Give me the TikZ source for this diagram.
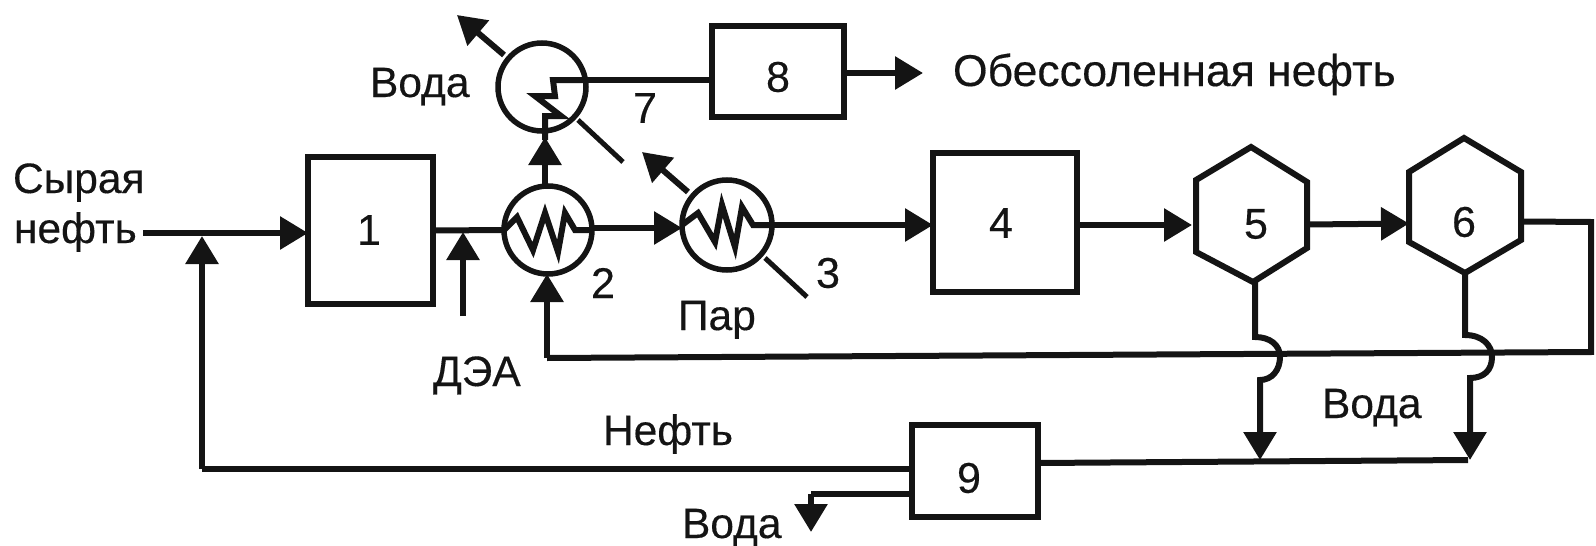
\documentclass[tikz,border=0pt]{standalone}
\usepackage{fontspec}
\setmainfont[FakeBold=0.35]{Liberation Sans}
\usetikzlibrary{arrows.meta,calc}
\definecolor{ink}{HTML}{141414}
\tikzset{
  lineink/.style={draw=ink,line width=6pt,line join=miter},
  arr/.style={lineink,-{Triangle[length=28pt,width=32pt]}},
  thinline/.style={draw=ink,line width=5pt},
  boxnode/.style={rectangle,lineink,fill=white,inner sep=0pt,outer sep=0pt},
  hexnode/.style={rectangle,inner sep=0pt,outer sep=0pt},
  hexline/.style={lineink,fill=white},
  heatnode/.style={circle,lineink,line width=5.5pt,fill=white,inner sep=0pt,outer sep=0pt},
  txt/.style={inner sep=0pt,outer sep=0pt,anchor=base west,text=ink,font=\fontsize{42.5}{50}\selectfont},
  txtwide/.style={txt,font=\fontsize{44.5}{52}\selectfont},
  num/.style={inner sep=0pt,outer sep=0pt,anchor=center,text=ink,font=\fontsize{43}{50}\selectfont},
}
\begin{document}
\begin{tikzpicture}[x=1pt,y=-1pt]
\useasboundingbox (0,0) rectangle (1596,546);
% equipment
\node[boxnode,minimum width=125pt,minimum height=147pt] (b1) at (370.5,230.5) {};
\node[boxnode,minimum width=132pt,minimum height=91pt] (b8) at (778,71.5) {};
\node[boxnode,minimum width=144pt,minimum height=139pt] (b4) at (1005,222.5) {};
\node[boxnode,minimum width=126pt,minimum height=92pt] (b9) at (975,471) {};
\node[heatnode,minimum size=88pt] (c7) at (542,87) {};
\node[heatnode,minimum size=88pt] (c2) at (548,230) {};
\node[heatnode,minimum size=90pt] (c3) at (727,225) {};
\node[hexnode,minimum width=111pt,minimum height=135pt] (h5) at (1251.5,214.5) {};
\node[hexnode,minimum width=112pt,minimum height=135pt] (h6) at (1465,205.5) {};
\draw[hexline] (1251,147) -- (1307,182) -- (1307,248) -- (1253,282) -- (1196,252) -- (1196,180) -- cycle;
\draw[hexline] (1464,138) -- (1521,172) -- (1521,240) -- (1465,273) -- (1409,242) -- (1409,172) -- cycle;
% free ends and junctions
\coordinate (inlet) at (143,233);
\coordinate (dea) at (463,316);
\coordinate (deaj) at (463,232);
\coordinate (retj) at (202,236);
\coordinate (retc) at (202,469);
\coordinate (w7) at (457,15);
\coordinate (w7s) at (504,55);
\coordinate (s7a) at (578,120);
\coordinate (s7b) at (623,162);
\coordinate (s3a) at (765,258);
\coordinate (s3b) at (807,297);
\coordinate (w3a) at (688,192);
\coordinate (w3b) at (642,152);
\coordinate (prod) at (923,73);
\coordinate (fold) at (1591,222);
\coordinate (back) at (1591,352);
\coordinate (backc) at (547,358);
\coordinate (j5) at (1260,460);
\coordinate (j6) at (1468,460);
\coordinate (wc) at (811,494);
\coordinate (wt) at (811,532);
% main line
\draw[arr] (inlet) -- (inlet -| b1.west);
\draw[lineink] (b1.east) -- (c2.west);
\draw[arr] (dea) -- (deaj);
\draw[arr] (c2.east |- 0,228) -- (c3.west |- 0,228);
\draw[arr] (c3.east) -- (b4.west |- c3.east);
\draw[arr] (b4.east |- c3.east) -- (1192,225);
\draw[arr] ($(h5.east)+(0,10)$) -- ($(h6.west)+(0,18)$);
\draw[lineink] ($(h6.east)+(0,16)$) -- (fold) -- (back) -- (backc);
\draw[arr] (backc) -- (c2.south -| backc);
% exchanger 7 and product
\draw[arr] (c2.north -| 545,0) -- (545,137);
\draw[lineink] (c7.east |- 0,80) -- (b8.west |- 0,80);
\draw[arr] (b8.east |- prod) -- (prod);
\draw[arr] (w7s) -- (w7);
\draw[thinline] (s7a) -- (s7b);
\draw[arr] (w3a) -- (w3b);
\draw[thinline] (s3a) -- (s3b);
% coils
\draw[lineink] (c7.east |- 0,80) -- (553,80) -- (555,96) -- (535,96) -- (561,116) -- (545,116) -- (545,140);
\draw[lineink] (c2.west) -- (517,217) -- (533,250) -- (545,213) -- (558,252) -- (565,213) -- (575,230) -- (c2.east);
\draw[lineink] (c3.west) -- (698,213) -- (715,242) -- (722,205) -- (735,247) -- (742,207) -- (753,225) -- (c3.east);
% settlers to unit 9
\draw[arr] (h5.south -| 1255,0) -- (1255,337) .. controls (1270,337) and (1280,345) .. (1280,357) .. controls (1280,370) and (1272,380) .. (1260,380) -- (j5);
\draw[arr] (h6.south -| 1465,0) -- (1465,335) .. controls (1482,335) and (1492,345) .. (1492,357) .. controls (1492,370) and (1484,378) .. (1470,378) -- (1470,460);
\draw[lineink] (b9.east |- 0,463) -- (j6);
\draw[lineink] (b9.west |- retc) -- (retc);
\draw[arr] (retc) -- (retj);
\draw[lineink] (b9.west |- wc) -- (wc);
\draw[arr] (wc) -- (wt);
% digits
\node[num] (n1) at (369,230) {1};
\node[num] (n2) at (603,283) {2};
\node[num] (n3) at (828,273) {3};
\node[num] (n4) at (1001,223) {4};
\node[num] (n5) at (1256,224) {5};
\node[num] (n6) at (1464,222) {6};
\node[num] (n7) at (645,108) {7};
\node[num] (n8) at (778,77) {8};
\node[num] (n9) at (969,478) {9};
% labels
\node[txt] (t1) at (13,193) {Сырая};
\node[txt] (t2) at (14,243) {нефть};
\node[txt] (t3) at (370,97) {Вода};
\node[txtwide] (t4) at (953,86) {Обессоленная нефть};
\node[txt] (t5) at (678,330) {Пар};
\node[txt] (t6) at (433,386) {ДЭА};
\node[txt] (t7) at (603,445) {Нефть};
\node[txt] (t8) at (682,538) {Вода};
\node[txt] (t9) at (1322,418) {Вода};
\end{tikzpicture}
\end{document}
